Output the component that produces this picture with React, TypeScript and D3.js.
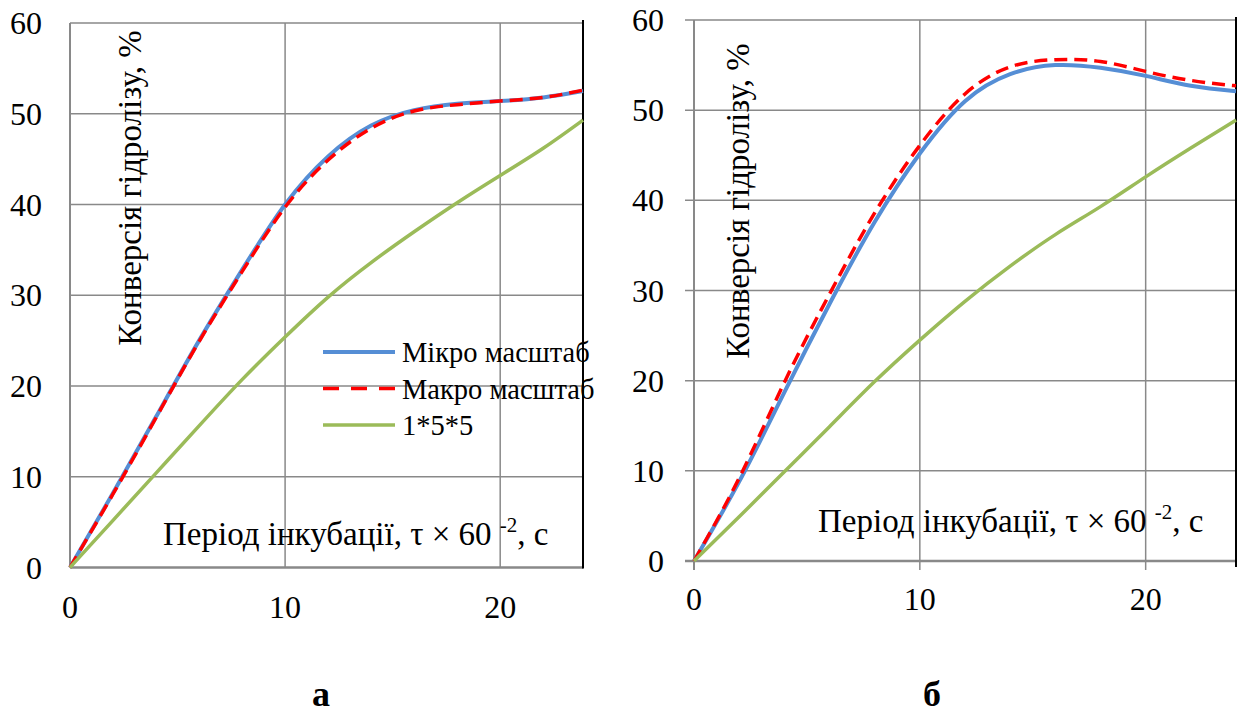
import React, { useEffect, useRef } from 'react'
import * as d3 from 'd3'

// tick labels
const xTicks = [0, 10, 20]
const yTicks = [0, 10, 20, 30, 40, 50, 60]

// panel "а"
const xValuesA = [0, 2, 4, 6, 8, 10, 12, 14, 16, 18, 20, 22, 23.85]
const microA = [0, 8.2, 16.6, 25.0, 32.8, 40.0, 45.3, 48.7, 50.4, 51.1, 51.4, 51.8, 52.5]
const macroA = [0, 8.1, 16.5, 24.9, 32.6, 39.7, 44.9, 48.4, 50.3, 51.0, 51.4, 51.8, 52.6]
const cubeA = [0, 5.2, 10.4, 15.6, 20.7, 25.4, 29.8, 33.6, 37.0, 40.2, 43.2, 46.2, 49.3]

// panel "б"
const xValuesB = [0, 2, 4, 6, 8, 10, 12, 14, 16, 18, 20, 22, 24]
const microB = [0, 8.8, 18.7, 28.5, 37.6, 45.2, 51.0, 54.0, 55.0, 54.7, 53.8, 52.7, 52.1]
const macroB = [0, 9.2, 19.8, 29.6, 38.6, 46.1, 51.8, 54.8, 55.6, 55.4, 54.3, 53.3, 52.7]
const cubeB = [0, 4.9, 9.9, 14.9, 19.9, 24.5, 28.8, 32.7, 36.2, 39.3, 42.6, 45.8, 48.9]

const seriesNames = ['Мікро масштаб', 'Макро масштаб', '1*5*5']
const yTitle = 'Конверсія гідролізу, %'
const panelLabels = ['а', 'б']

const FONT = 'Liberation Serif, Times New Roman, serif'
const GRID = '#898989'

const App = () => {
  const svgRef = useRef(null)

  useEffect(() => {
    const svg = d3.select(svgRef.current)
    svg.selectAll('*').remove()

    const styles = [
      { color: '#558ED5', width: 4, dash: null },
      { color: '#FF0000', width: 3.5, dash: '13,7' },
      { color: '#9BBB59', width: 3.5, dash: null },
    ]

    const drawPanel = (cfg) => {
      const x = d3.scaleLinear().domain([0, cfg.xMax]).range(cfg.xRange)
      const y = d3.scaleLinear().domain([0, 60]).range(cfg.yRange)
      const g = svg.append('g').attr('font-family', FONT)

      // horizontal grid
      g.selectAll('.hgrid')
        .data(yTicks.filter((d) => d > 0))
        .enter()
        .append('line')
        .attr('x1', x(0) - cfg.tick)
        .attr('x2', x(cfg.xMax))
        .attr('y1', (d) => y(d))
        .attr('y2', (d) => y(d))
        .attr('stroke', GRID)
        .attr('stroke-width', 1.5)

      // vertical grid
      g.selectAll('.vgrid')
        .data(xTicks.filter((d) => d > 0))
        .enter()
        .append('line')
        .attr('x1', (d) => x(d))
        .attr('x2', (d) => x(d))
        .attr('y1', y(60))
        .attr('y2', y(0) + cfg.tick)
        .attr('stroke', GRID)
        .attr('stroke-width', 1.5)

      // axes
      g.append('line')
        .attr('x1', x(0))
        .attr('x2', x(0))
        .attr('y1', y(60))
        .attr('y2', y(0) + cfg.tick)
        .attr('stroke', GRID)
        .attr('stroke-width', 2)
      g.append('line')
        .attr('x1', x(0) - cfg.tick)
        .attr('x2', x(cfg.xMax))
        .attr('y1', y(0))
        .attr('y2', y(0))
        .attr('stroke', GRID)
        .attr('stroke-width', 2.5)

      // right black border
      g.append('line')
        .attr('x1', x(cfg.xMax))
        .attr('x2', x(cfg.xMax))
        .attr('y1', y(60) - 3)
        .attr('y2', y(0) + cfg.borderExtra)
        .attr('stroke', '#000')
        .attr('stroke-width', 2)

      // tick labels
      g.selectAll('.ylab')
        .data(yTicks)
        .enter()
        .append('text')
        .text((d) => d)
        .attr('x', x(0) - cfg.yLabelGap)
        .attr('y', (d) => y(d) + 11)
        .attr('text-anchor', 'end')
        .style('font-size', '32px')
      g.selectAll('.xlab')
        .data(xTicks)
        .enter()
        .append('text')
        .text((d) => d)
        .attr('x', (d) => x(d))
        .attr('y', y(0) + cfg.xLabelGap)
        .attr('text-anchor', 'middle')
        .style('font-size', '32px')

      // curves
      const line = d3
        .line()
        .x((d) => x(d[0]))
        .y((d) => y(d[1]))
        .curve(d3.curveNatural)
      cfg.series.forEach((vals, i) => {
        g.append('path')
          .datum(cfg.xs.map((xv, j) => [xv, vals[j]]))
          .attr('d', line)
          .attr('fill', 'none')
          .attr('stroke', styles[i].color)
          .attr('stroke-width', styles[i].width)
          .attr('stroke-dasharray', styles[i].dash)
      })

      // y title
      g.append('text')
        .text(yTitle)
        .attr('text-anchor', 'middle')
        .attr('transform', `translate(${cfg.yTitle[0]}, ${cfg.yTitle[1]}) rotate(-90)`)
        .style('font-size', '33px')

      // x title
      const xt = g
        .append('text')
        .attr('x', cfg.xTitle[0])
        .attr('y', cfg.xTitle[1])
        .style('font-size', '33px')
      xt.append('tspan').text('Період інкубації, τ × 60 ')
      xt.append('tspan').text('-2').attr('dy', -13).style('font-size', '21px')
      xt.append('tspan').text(', с').attr('dy', 13)

      // panel letter
      g.append('text')
        .text(cfg.letter)
        .attr('x', cfg.letterX)
        .attr('y', 706)
        .attr('text-anchor', 'middle')
        .style('font-size', '36px')
        .style('font-weight', 'bold')

      // legend
      if (cfg.legend) {
        const lg = g
          .selectAll('.legend')
          .data(seriesNames)
          .enter()
          .append('g')
          .attr('transform', (d, i) => `translate(${cfg.legend[0]}, ${cfg.legend[1] + i * 36.5})`)
        lg.append('line')
          .attr('x1', 0)
          .attr('x2', 72)
          .attr('stroke', (d, i) => styles[i].color)
          .attr('stroke-width', (d, i) => styles[i].width)
          .attr('stroke-dasharray', (d, i) => (styles[i].dash ? '16,12' : null))
        lg.append('text')
          .text((d) => d)
          .attr('x', 79)
          .attr('y', 10)
          .style('font-size', '28.5px')
      }
    }

    drawPanel({
      xMax: 23.85,
      xRange: [70, 583],
      yRange: [567.5, 23],
      tick: 0,
      borderExtra: 1,
      yLabelGap: 28,
      xLabelGap: 50,
      xs: xValuesA,
      series: [microA, macroA, cubeA],
      yTitle: [141, 188],
      xTitle: [163, 545],
      letter: panelLabels[0],
      letterX: 321,
      legend: [323, 352],
    })

    drawPanel({
      xMax: 24,
      xRange: [694, 1236],
      yRange: [561, 20],
      tick: 9,
      borderExtra: 6,
      yLabelGap: 30,
      xLabelGap: 49,
      xs: xValuesB,
      series: [microB, macroB, cubeB],
      yTitle: [749, 201],
      xTitle: [818, 532],
      letter: panelLabels[1],
      letterX: 932,
      legend: null,
    })
  }, [])

  return (
    <svg
      ref={svgRef}
      width={1245}
      height={715}
      style={{ position: 'absolute', left: 0, top: 0, background: '#fff' }}
    ></svg>
  )
}

export default App
